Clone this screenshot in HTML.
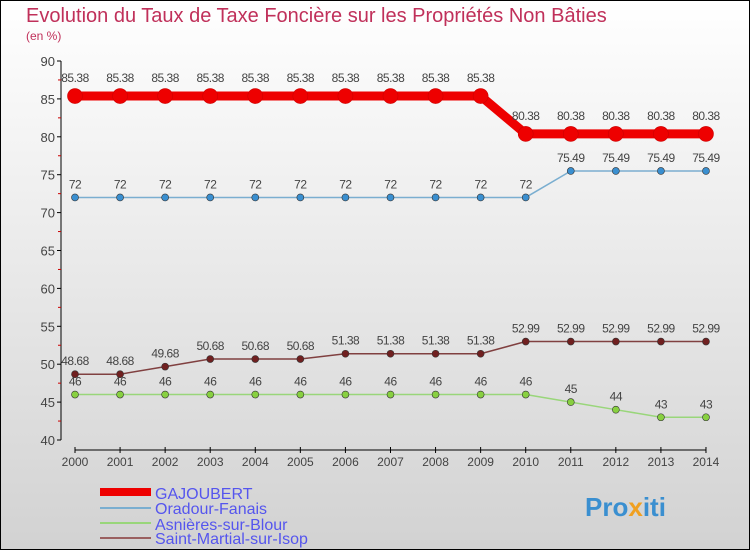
<!DOCTYPE html>
<html><head><meta charset="utf-8"><style>
body{margin:0}
#c{width:750px;height:550px;position:relative;overflow:hidden;font-family:"Liberation Sans",sans-serif}
svg{position:absolute;left:0;top:0}
</style></head><body>
<div id="c">
<svg id="s" width="750" height="550" xmlns="http://www.w3.org/2000/svg">
<defs><linearGradient id="bg" x1="0" y1="0" x2="0" y2="1"><stop offset="0" stop-color="#ffffff"/><stop offset="1" stop-color="#d2d2d2"/></linearGradient></defs>
<rect x="0.5" y="0.5" width="749" height="549" fill="url(#bg)" stroke="#000"/>
<text x="26" y="22" font-size="20" fill="#c0305a">Evolution du Taux de Taxe Foncière sur les Propriétés Non Bâties</text>
<text x="26" y="40" font-size="12" fill="#c0305a">(en %)</text>
<g id="axes"></g><g id="series"></g>
<g>
<rect x="100" y="488" width="51" height="8" fill="#e00"/>
<text x="155" y="499" font-size="16" fill="#5555ee">GAJOUBERT</text>
<rect x="100" y="507" width="51" height="2" fill="#7aaed0"/>
<text x="155" y="514" font-size="16" fill="#5555ee">Oradour-Fanais</text>
<rect x="100" y="522" width="51" height="2" fill="#99d67a"/>
<text x="155" y="530" font-size="16" fill="#5555ee">Asnières-sur-Blour</text>
<rect x="100" y="537" width="51" height="2" fill="#9a6060"/>
<text x="155" y="544" font-size="16" fill="#5555ee">Saint-Martial-sur-Isop</text>
</g>
<text x="585" y="516" font-size="26" font-weight="bold" fill="#3a8fd0">Pro<tspan fill="#f0a020">x</tspan>iti</text>
</svg></div>
<script>
const years=[2000,2001,2002,2003,2004,2005,2006,2007,2008,2009,2010,2011,2012,2013,2014];
const gajoubert=[85.38,85.38,85.38,85.38,85.38,85.38,85.38,85.38,85.38,85.38,80.38,80.38,80.38,80.38,80.38];
const oradour=[72,72,72,72,72,72,72,72,72,72,72,75.49,75.49,75.49,75.49];
const asnieres=[46,46,46,46,46,46,46,46,46,46,46,45,44,43,43];
const saintMartial=[48.68,48.68,49.68,50.68,50.68,50.68,51.38,51.38,51.38,51.38,52.99,52.99,52.99,52.99,52.99];
const yTicks=[40,45,50,55,60,65,70,75,80,85,90];
const NS="http://www.w3.org/2000/svg";
const xs=i=>75+i*45.07;
const ys=v=>440-(v-40)*7.58;
function el(t,a,p){const e=document.createElementNS(NS,t);for(const k in a)e.setAttribute(k,a[k]);p.appendChild(e);return e;}
const ax=document.getElementById('axes');
const yl=el('line',{x1:61,y1:ys(90),x2:61,y2:ys(40),stroke:'#000'},ax);


yTicks.forEach(v=>{
 el('line',{x1:57,x2:61,y1:ys(v),y2:ys(v),stroke:'#000'},ax);
 if(v<90)el('line',{x1:58,x2:61,y1:ys(v+2.5),y2:ys(v+2.5),stroke:'#c00'},ax);
 const t=el('text',{x:55,y:ys(v)+5,'font-size':13,fill:'#444','text-anchor':'end'},ax);t.textContent=v;
 
 
});
const xl=el('line',{x1:xs(0),x2:xs(14),y1:450,y2:450,stroke:'#000'},ax);


years.forEach((y,i)=>{
 el('line',{x1:xs(i),x2:xs(i),y1:447,y2:453,stroke:'#000'},ax);
 const t=el('text',{x:xs(i),y:466,'font-size':12,fill:'#444','text-anchor':'middle'},ax);t.textContent=y;
 
 
});
const sg=document.getElementById('series');
function series(name,vals,color,w,r,fill,lbl){
 const g=el('g',{},sg);
 
 
 el('polyline',{points:vals.map((v,i)=>xs(i)+','+ys(v)).join(' '),fill:'none',stroke:color,'stroke-width':w},g);
 vals.forEach((v,i)=>{
  const c=el('circle',{cx:xs(i),cy:ys(v),r:r,fill:fill,stroke:color==='#e00'?'#c00':'#333','stroke-width':0.6},g);
  
  
  const t=el('text',{x:xs(i),y:ys(v)-lbl,'font-size':12,fill:'#444','text-anchor':'middle','letter-spacing':'-0.5'},g);
  t.textContent=String(v);
  
  
 });
}
series('asnieres',asnieres,'#99d67a',1.5,3.5,'#88d040',9);
series('saint-martial',saintMartial,'#804040',1.5,3.5,'#702020',9);
series('oradour',oradour,'#7aaed0',1.5,3.5,'#3a8fd0',9);
series('gajoubert',gajoubert,'#e00',9,7.5,'#e00',14);
</script>
</body></html>
